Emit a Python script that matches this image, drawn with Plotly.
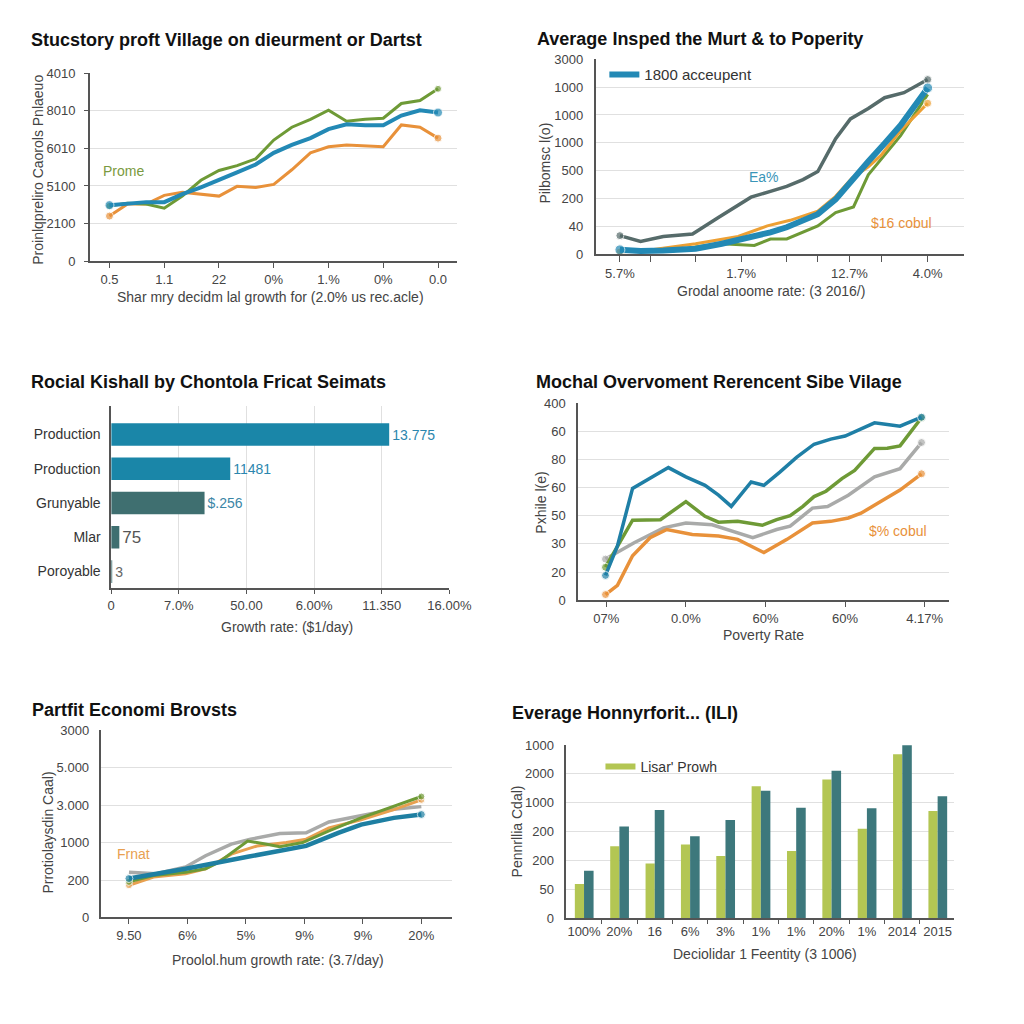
import plotly.graph_objects as go

FONT = "Liberation Sans, Arial, sans-serif"
BLUE = "#2389b5"; GREEN = "#6e9a36"; ORANGE = "#e8913a"; SLATE = "#566b6a"; LGRAY = "#a9aaa9"
BAR_BLUE = "#1a86a8"; BAR_SLATE = "#3f6f70"; BAR_LIME = "#b3c653"; BAR_TEAL = "#3d787c"
TICK = "#444444"; AXL = "#555555"; GRID = "#e0e0e0"

# ---------------- Panel 1 data ----------------
p1_title = "Stucstory proft Village on dieurment or Dartst"
p1_x = [0, 0.33, 0.67, 1, 1.33, 1.67, 2, 2.33, 2.67, 3, 3.33, 3.67, 4, 4.33, 4.67, 5, 5.33, 5.67, 6]
p1_blue = [1.49, 1.54, 1.57, 1.57, 1.78, 1.96, 2.15, 2.36, 2.57, 2.88, 3.09, 3.27, 3.51, 3.64, 3.61, 3.61, 3.87, 4.01, 3.95]
p1_green = [1.47, 1.54, 1.52, 1.41, 1.73, 2.15, 2.41, 2.54, 2.72, 3.22, 3.56, 3.77, 4.01, 3.72, 3.77, 3.80, 4.19, 4.27, 4.58]
p1_orange = [1.20, 1.52, 1.52, 1.75, 1.83, 1.78, 1.73, 1.99, 1.96, 2.04, 2.43, 2.88, 3.04, 3.09, 3.06, 3.04, 3.62, 3.56, 3.27]
p1_xticks = ["0.5", "1.1", "22", "0%", "1.%", "0%", "0.0"]
p1_yticks = ["0", "2100", "5100", "6010", "8010", "4010"]
p1_xtitle = "Shar mry decidm lal growth for (2.0% us rec.acle)"
p1_ytitle = "Proinlqpreliro Caorols Pnlaeuo"

# ---------------- Panel 2 data ----------------
p2_title = "Average Insped the Murt & to Poperity"
p2_slate_x = [0, 0.67, 1.41, 2.36, 3.2, 4.26, 4.89, 5.42, 5.95, 6.43, 7.01, 7.49, 8.07, 8.6, 9.23, 10]
p2_slate_y = [0.67, 0.46, 0.64, 0.73, 1.32, 2.05, 2.26, 2.44, 2.68, 2.97, 4.15, 4.86, 5.23, 5.62, 5.8, 6.27]
p2_blue_x = [0, 0.67, 1.41, 2.46, 3.31, 4.26, 4.89, 5.42, 5.95, 6.43, 7.01, 7.49, 8.07, 8.6, 9.12, 10]
p2_blue_y = [0.16, 0.12, 0.14, 0.2, 0.38, 0.61, 0.79, 0.97, 1.2, 1.44, 1.97, 2.62, 3.33, 3.98, 4.63, 5.97]
p2_orange_x = [0, 0.98, 2.46, 3.84, 4.79, 5.53, 6.43, 7.01, 7.54, 8.07, 8.49, 9.12, 10]
p2_orange_y = [0.08, 0.16, 0.38, 0.64, 1.02, 1.22, 1.55, 2.08, 2.73, 3.14, 3.56, 4.44, 5.42]
p2_green_x = [0, 1.72, 2.46, 3.31, 4.37, 4.89, 5.42, 6.43, 7.01, 7.59, 8.07, 8.6, 9.12, 10]
p2_green_y = [0.12, 0.12, 0.26, 0.38, 0.32, 0.55, 0.55, 1.02, 1.5, 1.7, 2.85, 3.56, 4.26, 5.74]
p2_xtickvals = [0, 3.94, 7.46, 10]
p2_xticks = ["5.7%", "1.7%", "12.7%", "4.0%"]
p2_minor = [1.0, 2.46, 5.4, 6.43, 8.49]
p2_yticks = ["0", "40", "200", "500", "1000", "1000", "1000", "3000"]
p2_legend = "1800 acceupent"
p2_xtitle = "Grodal anoome rate: (3 2016/)"
p2_ytitle = "Pilbomsc l(o)"

# ---------------- Panel 3 data ----------------
p3_title = "Rocial Kishall by Chontola Fricat Seimats"
p3_cats = ["Production", "Production", "Grunyable", "Mlar", "Poroyable"]
p3_vals = [4.11, 1.76, 1.38, 0.12, 0.01]
p3_labels = ["13.775", "11481", "$.256", "75", "3"]
p3_xticks = ["0", "7.0%", "50.00", "6.00%", "11.350", "16.00%"]
p3_xtitle = "Growth rate: ($1/day)"

# ---------------- Panel 4 data ----------------
p4_title = "Mochal Overvoment Rerencent Sibe Vilage"
p4_blue_x = [-0.01, 0.14, 0.33, 0.55, 0.78, 1.0, 1.24, 1.41, 1.57, 1.82, 1.98, 2.18, 2.39, 2.61, 2.82, 3.0, 3.18, 3.37, 3.53, 3.69, 3.96]
p4_blue_y = [0.88, 1.93, 3.97, 4.32, 4.71, 4.38, 4.08, 3.73, 3.33, 4.2, 4.08, 4.55, 5.07, 5.54, 5.72, 5.83, 6.07, 6.3, 6.24, 6.18, 6.5]
p4_green_x = [-0.01, 0.33, 0.68, 1.0, 1.24, 1.41, 1.65, 1.96, 2.14, 2.31, 2.47, 2.61, 2.76, 2.96, 3.12, 3.37, 3.53, 3.69, 3.96]
p4_green_y = [1.17, 2.84, 2.86, 3.5, 2.98, 2.77, 2.8, 2.66, 2.86, 3.0, 3.33, 3.68, 3.87, 4.32, 4.61, 5.39, 5.4, 5.48, 6.48]
p4_gray_x = [-0.01, 0.35, 0.72, 1.0, 1.33, 1.57, 1.84, 2.14, 2.31, 2.59, 2.78, 3.04, 3.37, 3.69, 3.96]
p4_gray_y = [1.46, 2.04, 2.57, 2.74, 2.68, 2.45, 2.22, 2.51, 2.63, 3.27, 3.33, 3.73, 4.38, 4.67, 5.6]
p4_orange_x = [-0.01, 0.14, 0.33, 0.55, 0.76, 1.08, 1.41, 1.65, 1.98, 2.27, 2.59, 2.82, 3.04, 3.2, 3.41, 3.69, 3.96]
p4_orange_y = [0.2, 0.53, 1.58, 2.22, 2.51, 2.33, 2.28, 2.16, 1.69, 2.16, 2.74, 2.8, 2.92, 3.09, 3.44, 3.91, 4.49]
p4_xticks = ["07%", "0.0%", "60%", "60%", "4.17%"]
p4_yticks = ["0", "20", "30", "50", "60", "80", "60", "400"]
p4_xtitle = "Poverty Rate"
p4_ytitle = "Pxhile l(e)"

# ---------------- Panel 5 data ----------------
p5_title = "Partfit Economi Brovsts"
p5_gray_x = [0, 0.47, 0.97, 1.31, 1.75, 2.08, 2.58, 3.03, 3.42, 3.97, 4.53, 5.0]
p5_gray_y = [1.21, 1.17, 1.35, 1.65, 1.96, 2.09, 2.24, 2.26, 2.55, 2.71, 2.89, 2.96]
p5_orange_x = [0, 0.42, 0.97, 1.31, 1.75, 2.19, 2.69, 3.03, 3.42, 3.97, 4.53, 5.0]
p5_orange_y = [0.86, 1.08, 1.17, 1.3, 1.69, 1.91, 2.0, 2.09, 2.39, 2.61, 2.88, 3.14]
p5_green_x = [0, 0.42, 0.97, 1.31, 1.53, 2.03, 2.31, 2.58, 2.97, 3.42, 3.97, 4.53, 5.0]
p5_green_y = [0.95, 1.12, 1.21, 1.3, 1.47, 2.04, 1.97, 1.89, 2.0, 2.31, 2.66, 2.96, 3.23]
p5_blue_x = [0, 0.97, 2.03, 3.03, 3.58, 3.97, 4.53, 5.0]
p5_blue_y = [1.04, 1.3, 1.62, 1.91, 2.26, 2.48, 2.66, 2.75]
p5_xticks = ["9.50", "6%", "5%", "9%", "9%", "20%"]
p5_yticks = ["0", "200", "1000", "3.000", "5.000", "3000"]
p5_xtitle = "Proolol.hum growth rate: (3.7/day)"
p5_ytitle = "Prrotiolaysdin Caal)"

# ---------------- Panel 6 data ----------------
p6_title = "Everage Honnyrforit... (ILI)"
p6_cats = ["100%", "20%", "16", "6%", "3%", "1%", "1%", "20%", "1%", "2014", "2015"]
p6_lime = [1.19, 2.5, 1.9, 2.56, 2.16, 4.57, 2.33, 4.81, 3.1, 5.68, 3.72]
p6_teal = [1.65, 3.18, 3.75, 2.84, 3.41, 4.42, 3.83, 5.11, 3.81, 5.99, 4.23]
p6_yticks = ["0", "50", "200", "200", "1000", "2000", "1000"]
p6_legend = "Lisar' Prowh"
p6_xtitle = "Deciolidar 1 Feentity (3 1006)"
p6_ytitle = "Pennrllia Cdal)"


def X(p):
    return p / 1024.0


def Y(p):
    return 1 - p / 1024.0


def ends(n, s):
    return [s] + [0] * (n - 2) + [s]


fig = go.Figure()


def line(x, y, color, width, ax, marker=0):
    fig.add_trace(go.Scatter(
        x=x, y=y, mode="lines+markers" if marker else "lines",
        line=dict(color=color, width=width),
        marker=dict(size=ends(len(x), marker), color=color) if marker else None,
        xaxis="x" + ax, yaxis="y" + ax, hoverinfo="skip", showlegend=False))


def legend_item(name, color, width, ax, legend):
    fig.add_trace(go.Scatter(x=[None], y=[None], mode="lines", line=dict(color=color, width=width),
                             name=name, legend=legend, showlegend=True, xaxis="x" + ax, yaxis="y" + ax))


# Panel 1
line(p1_x, p1_orange, ORANGE, 3, "1", marker=8)
line(p1_x, p1_green, GREEN, 3, "1", marker=7)
line(p1_x, p1_blue, BLUE, 4, "1", marker=9)

# Panel 2
line(p2_slate_x, p2_slate_y, SLATE, 3.5, "2", marker=8)
line(p2_green_x, p2_green_y, GREEN, 3, "2")
line(p2_orange_x, p2_orange_y, "#eda034", 3, "2", marker=8)
line(p2_blue_x, p2_blue_y, BLUE, 6, "2", marker=10)
legend_item(p2_legend, BLUE, 6, "2", "legend2")

# Panel 3
fig.add_trace(go.Bar(
    x=p3_vals, y=list(range(len(p3_cats))), orientation="h", width=0.66,
    marker=dict(color=[BAR_BLUE, BAR_BLUE, BAR_SLATE, BAR_SLATE, BAR_SLATE], line=dict(width=0)),
    text=p3_labels, textposition="outside", cliponaxis=False,
    textfont=dict(color=["#2b86ae", "#2b86ae", "#3b86a6", "#555555", "#666666"], size=[14, 14, 14, 17, 14], family=FONT),
    xaxis="x3", yaxis="y3", hoverinfo="skip", showlegend=False))

# Panel 4
line(p4_gray_x, p4_gray_y, LGRAY, 3.5, "4", marker=8)
line(p4_orange_x, p4_orange_y, ORANGE, 3.5, "4", marker=8)
line(p4_green_x, p4_green_y, GREEN, 3.5, "4", marker=8)
line(p4_blue_x, p4_blue_y, "#1f7fa6", 3.5, "4", marker=8)

# Panel 5
line(p5_gray_x, p5_gray_y, LGRAY, 3.5, "5")
line(p5_orange_x, p5_orange_y, "#e8a050", 3, "5", marker=7)
line(p5_green_x, p5_green_y, GREEN, 3, "5", marker=7)
line(p5_blue_x, p5_blue_y, "#1e7fa2", 4.5, "5", marker=8)

# Panel 6
p6_x = list(range(len(p6_cats)))
fig.add_trace(go.Bar(x=p6_x, y=p6_lime, width=0.26, offset=-0.26, marker=dict(color=BAR_LIME, line=dict(width=0)),
                     xaxis="x6", yaxis="y6", hoverinfo="skip", showlegend=False))
fig.add_trace(go.Bar(x=p6_x, y=p6_teal, width=0.27, offset=0.0, marker=dict(color=BAR_TEAL, line=dict(width=0)),
                     xaxis="x6", yaxis="y6", hoverinfo="skip", showlegend=False))
legend_item(p6_legend, BAR_LIME, 6, "6", "legend6")

tickfont = dict(family=FONT, size=13, color=TICK)


def xaxis(l, r, rng, tickvals, ticktext, grid=False, ticks="outside", ticklen=5, anchor="y", minor=None):
    d = dict(domain=[X(l), X(r)], anchor=anchor, range=rng, tickmode="array", tickvals=tickvals, ticktext=ticktext,
             showgrid=grid, gridcolor=GRID, gridwidth=1, zeroline=False, showline=True, linecolor=AXL, linewidth=1.5,
             ticks=ticks, ticklen=ticklen, tickcolor=AXL, tickwidth=1.2, tickfont=tickfont, fixedrange=True)
    if minor is not None:
        d["minor"] = dict(tickmode="array", tickvals=minor, ticks="outside", ticklen=ticklen, tickcolor=AXL,
                          tickwidth=1.2, showgrid=False)
    return d


def yaxis(t, b, rng, tickvals, ticktext, grid=True, anchor="x", ticks="", standoff=8, size=13):
    d = dict(domain=[Y(b), Y(t)], anchor=anchor, range=rng, tickmode="array", tickvals=tickvals, ticktext=ticktext,
             showgrid=grid, gridcolor=GRID, gridwidth=1, zeroline=False, showline=True, linecolor=AXL, linewidth=1.5,
             ticks=ticks, ticklen=4, tickcolor=AXL, ticklabelstandoff=standoff,
             tickfont=dict(family=FONT, size=size, color=TICK if size == 13 else "#333333"), fixedrange=True)
    return d


layout = dict(
    width=1024, height=1024, margin=dict(l=0, r=0, t=0, b=0),
    paper_bgcolor="white", plot_bgcolor="white",
    font=dict(family=FONT, color=TICK),
    xaxis=xaxis(88, 465, [-0.36, 6.35], list(range(7)), p1_xticks, anchor="y"),
    yaxis=yaxis(67, 258, [0, 5], list(range(6)), p1_yticks, anchor="x", ticks="outside", standoff=6),
    xaxis2=xaxis(607, 985, [-0.79, 11.18], p2_xtickvals, p2_xticks, anchor="y2", ticklen=6, minor=p2_minor),
    yaxis2=yaxis(53, 251, [0, 7], list(range(8)), p2_yticks, anchor="x2"),
    xaxis3=xaxis(110, 457, [0, 5], list(range(6)), p3_xticks, grid=True, anchor="y3", ticklen=4),
    yaxis3=yaxis(405, 590, [4.49, -0.83], list(range(5)), p3_cats, grid=False, anchor="x3", standoff=6, size=14),
    xaxis4=xaxis(589, 970, [-0.355, 4.31], list(range(5)), p4_xticks, anchor="y4"),
    yaxis4=yaxis(402, 602, [0, 7], list(range(8)), p4_yticks, anchor="x4"),
    xaxis5=xaxis(100, 460, [-0.47, 5.53], list(range(6)), p5_xticks, anchor="y5"),
    yaxis5=yaxis(734, 924, [0, 5], list(range(6)), p5_yticks, anchor="x5"),
    xaxis6=xaxis(577, 975, [-0.5, 10.47], p6_x, p6_cats, anchor="y6", ticks="", ticklen=4,
                 minor=[i + 0.5 for i in range(10)]),
    yaxis6=yaxis(749, 925, [0, 6], list(range(7)), p6_yticks, anchor="x6"),
    legend2=dict(x=X(616), y=Y(52), xanchor="left", yanchor="top", bgcolor="rgba(0,0,0,0)",
                 font=dict(family=FONT, size=15, color="#333333")),
    legend6=dict(x=X(612), y=Y(755), xanchor="left", yanchor="top", bgcolor="rgba(0,0,0,0)",
                 font=dict(family=FONT, size=14, color="#333333")),
    showlegend=True,
)
fig.update_layout(**layout)

ann = []


def text(s, x, y, size=14, color=TICK, bold=False, xanchor="center", angle=0):
    ann.append(dict(text="<b>%s</b>" % s if bold else s, x=X(x), y=Y(y), xref="paper", yref="paper",
                    xanchor=xanchor, yanchor="middle", showarrow=False, textangle=angle,
                    font=dict(family=FONT, size=size, color=color)))


# titles
text(p1_title, 26, 33, 18, "#111111", True, "left")
text(p2_title, 545, 32, 18, "#111111", True, "left")
text(p3_title, 26, 381, 18, "#111111", True, "left")
text(p4_title, 544, 381, 18, "#111111", True, "left")
text(p5_title, 27, 713, 18, "#111111", True, "left")
text(p6_title, 519, 717, 18, "#111111", True, "left")

# axis titles
text(p1_xtitle, 273, 294)
text(p2_xtitle, 787, 288)
text(p3_xtitle, 290, 629)
text(p4_xtitle, 779, 637)
text(p5_xtitle, 281, 967)
text(p6_xtitle, 781, 961)
text(p1_ytitle, 34, 165, angle=-90)
text(p2_ytitle, 555, 158, angle=-90)
text(p4_ytitle, 551, 503, angle=-90)
text(p5_ytitle, 45, 838, angle=-90)
text(p6_ytitle, 526, 837, angle=-90)

# in-plot labels
text("Prome", 123, 166, 14, "#7a9a40")
text("Ea%", 780, 173, 14, "#3a95b8")
text("$16 cobul", 921, 219, 14, "#e8913a")
text("$% cobul", 917, 532, 14, "#e8913a")
text("Frnat", 133, 860, 14, "#e8a050")

fig.update_layout(annotations=ann)
fig.write_html("out.html",
               post_script="document.body.style.margin='0';document.body.style.overflow='hidden';")
